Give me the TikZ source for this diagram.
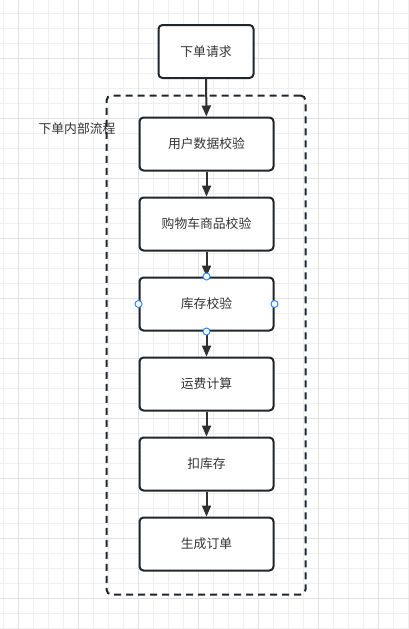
\documentclass[tikz,border=0pt]{standalone}
\usepackage{fontspec}
\setmainfont{Noto Sans CJK SC}
\usetikzlibrary{arrows.meta}
\definecolor{gridminor}{HTML}{EFEFEF}
\definecolor{gridmajor}{HTML}{E2E2E2}
\definecolor{boxline}{HTML}{1F262C}
\definecolor{arrowc}{HTML}{303030}
\definecolor{txt}{HTML}{333333}
\definecolor{handle}{HTML}{2A8CF0}
\begin{document}
\begin{tikzpicture}[x=1pt,y=-1pt,
  stepbox/.style={draw=boxline, line width=2pt, rounded corners=4pt, fill=white,
    minimum width=134pt, minimum height=53pt, text=txt, inner sep=0pt,
    font=\fontsize{12.8}{15}\selectfont},
  flow/.style={draw=arrowc, line width=2pt, -{Triangle[length=11pt,width=9pt]}},
  hdl/.style={circle, draw=handle, fill=white, line width=1pt, minimum size=7pt, inner sep=0pt},
  container/.style={draw=boxline, line width=2pt, rounded corners=5pt, dash pattern=on 7pt off 5pt,
    minimum width=199pt, minimum height=499pt, inner sep=0pt},
  lbl/.style={text=txt, inner sep=0pt, font=\fontsize{12.8}{15}\selectfont}]
\useasboundingbox (0,0) rectangle (409,629);
\fill[white] (0,0) rectangle (409,629);
% grid
\foreach \k in {0,...,27} {\draw[gridminor, line width=1pt] (3.3+15*\k,0) -- (3.3+15*\k,629);}
\foreach \k in {0,...,41} {\draw[gridminor, line width=1pt] (0,13.3+15*\k) -- (409,13.3+15*\k);}
\foreach \k in {0,...,6} {\draw[gridmajor, line width=1pt] (18.3+60*\k,0) -- (18.3+60*\k,629);}
\foreach \k in {0,...,9} {\draw[gridmajor, line width=1pt] (0,58.3+60*\k) -- (409,58.3+60*\k);}
% container
\node[container] (grp) at (206,345) {};
\node[lbl] (grplbl) at (77,128.5) {下单内部流程};
% nodes
\node[stepbox, minimum width=95pt] (req) at (206,51.5) {下单请求};
\node[stepbox] (a) at (206.5,144) {用户数据校验};
\node[stepbox] (b) at (206.5,224) {购物车商品校验};
\node[stepbox] (c) at (206.5,304) {库存校验};
\node[stepbox] (d) at (206.5,384) {运费计算};
\node[stepbox] (e) at (206.5,464) {扣库存};
\node[stepbox] (f) at (206.5,544) {生成订单};
% connectors
\draw[flow] (req) -- (a);
\draw[flow] (a) -- (b);
\draw[flow] (b) -- (c);
\draw[flow] (c) -- (d);
\draw[flow] (d) -- (e);
\draw[flow] (e) -- (f);
% selection handles
\node[hdl] (hn) at (c.north) {};
\node[hdl] (hs) at (c.south) {};
\node[hdl] (hw) at (c.west) {};
\node[hdl] (he) at (c.east) {};
\end{tikzpicture}
\end{document}
